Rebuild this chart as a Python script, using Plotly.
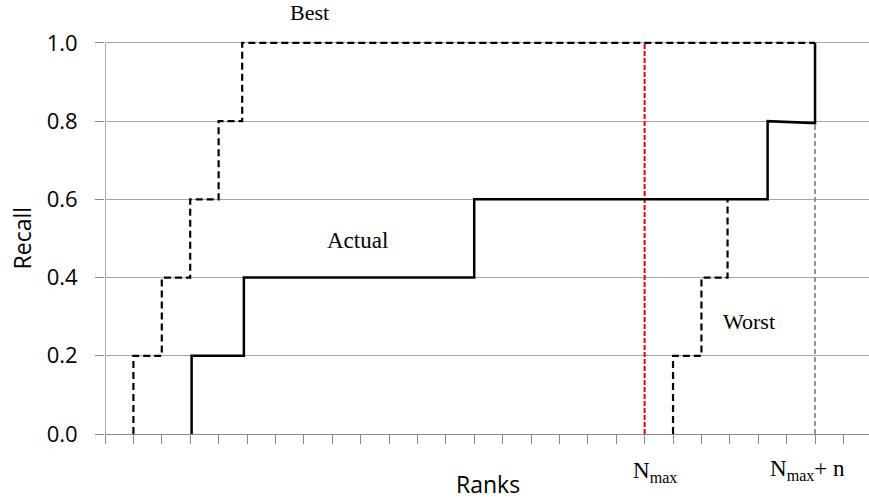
import plotly.graph_objects as go

# --- data ---
recall_levels = [0.0, 0.2, 0.4, 0.6, 0.8, 1.0]
best_ranks = [1.0, 2.0, 3.0, 4.0, 4.83]          # rank where Best recall steps up
best_end_rank = 25.0
actual_ranks = [3.05, 4.89, 13.0, 23.33, 25.0]   # rank where Actual recall steps up
actual_tail_recall = 0.795                        # slight droop of the 0.8 segment
worst_ranks = [20.0, 21.0, 21.92]                 # rank where Worst recall steps up
nmax_rank = 19.0
nmax_plus_n_rank = 25.0
x_ticks = list(range(0, 27))
y_ticks = [0.0, 0.2, 0.4, 0.6, 0.8, 1.0]


def step_path(ranks, levels, end_x=None, end_y=None):
    xs, ys = [], []
    for i, r in enumerate(ranks):
        xs += [r, r]
        ys += [levels[i], levels[i + 1]]
        if i + 1 < len(ranks):
            xs.append(ranks[i + 1])
            ys.append(levels[i + 1])
    if end_x is not None:
        xs.append(end_x)
        ys.append(end_y if end_y is not None else ys[-1])
    return xs, ys


fig = go.Figure()

# reference verticals
fig.add_trace(go.Scatter(x=[nmax_plus_n_rank, nmax_plus_n_rank], y=[0, 1.0], mode="lines",
                         line=dict(color="#8c8c8c", width=1.8, dash="5px,3px"),
                         hoverinfo="skip", showlegend=False))
fig.add_trace(go.Scatter(x=[nmax_rank, nmax_rank], y=[0, 1.0], mode="lines",
                         line=dict(color="#e00000", width=2, dash="5px,2px"),
                         hoverinfo="skip", showlegend=False))

# Best
bx, by = step_path(best_ranks, recall_levels, end_x=best_end_rank)
fig.add_trace(go.Scatter(x=bx, y=by, mode="lines", name="Best",
                         line=dict(color="black", width=2.2, dash="7px,4px"),
                         showlegend=False))

# Worst
wx, wy = step_path(worst_ranks, recall_levels[:4])
fig.add_trace(go.Scatter(x=wx, y=wy, mode="lines", name="Worst",
                         line=dict(color="black", width=2.2, dash="7px,4px"),
                         showlegend=False))

# Actual
ax_, ay_ = [], []
for i, r in enumerate(actual_ranks):
    lo = recall_levels[i]
    hi = recall_levels[i + 1]
    if i == len(actual_ranks) - 1:
        lo = actual_tail_recall
    ax_ += [r, r]
    ay_ += [lo, hi]
    if i + 1 < len(actual_ranks):
        ax_.append(actual_ranks[i + 1])
        ay_.append(actual_tail_recall if i + 1 == len(actual_ranks) - 1 else hi)
fig.add_trace(go.Scatter(x=ax_, y=ay_, mode="lines", name="Actual",
                         line=dict(color="black", width=2.5),
                         showlegend=False))

serif = "Liberation Serif"
sans = "Open Sans"

annotations = [
    dict(text="Best", x=7.2, y=1.0, xref="x", yref="y", yshift=30, showarrow=False,
         font=dict(family=serif, size=22, color="black")),
    dict(text="Actual", x=8.9, y=0.495, xref="x", yref="y", showarrow=False,
         font=dict(family=serif, size=23, color="black")),
    dict(text="Worst", x=22.68, y=0.287, xref="x", yref="y", showarrow=False,
         font=dict(family=serif, size=22, color="black")),
    dict(text="N<sub>max</sub>", x=nmax_rank, y=0, xref="x", yref="y", yanchor="top",
         xshift=10, yshift=-22, showarrow=False,
         font=dict(family=serif, size=23, color="black")),
    dict(text="N<sub>max</sub>+ n", x=nmax_plus_n_rank, y=0, xref="x", yref="y", yanchor="top",
         xshift=-8, yshift=-20, showarrow=False,
         font=dict(family=serif, size=23, color="black")),
    dict(text="Ranks", x=13.5, y=0, xref="x", yref="y", yanchor="top",
         yshift=-32, showarrow=False,
         font=dict(family=sans, size=23, color="black")),
    dict(text="Recall", x=0, y=0.5, xref="paper", yref="y", xanchor="center",
         xshift=-83, textangle=-90, showarrow=False,
         font=dict(family=sans, size=23, color="black")),
]

fig.update_layout(
    width=869, height=502,
    margin=dict(l=105, r=0, t=39, b=68, autoexpand=False),
    paper_bgcolor="white", plot_bgcolor="white",
    annotations=annotations,
    shapes=[dict(type="line", xref="x", yref="y", x0=0, x1=0, y0=0, y1=1.0,
                 line=dict(color="#8a8a8a", width=1.4), layer="below")],
)
fig.update_xaxes(range=[0, 26.9], tickvals=x_ticks, ticktext=[""] * len(x_ticks),
                 ticks="outside", ticklen=9, tickcolor="#8a8a8a", tickwidth=1.3,
                 showline=True, linecolor="#8a8a8a", linewidth=1.4,
                 showgrid=False, zeroline=False, automargin=False)
fig.update_yaxes(range=[0, 1.01], tickvals=y_ticks, tickformat=".1f",
                 ticks="outside", ticklen=9, tickcolor="#8a8a8a", tickwidth=1.3,
                 ticklabelstandoff=13,
                 tickfont=dict(family=sans, size=22, color="black"),
                 showgrid=True, gridcolor="#a6a6a6", gridwidth=1.2,
                 showline=False, zeroline=False, automargin=False)

fig.write_html("out.html", config={"displayModeBar": False},
               post_script="document.body.style.margin='0';")
